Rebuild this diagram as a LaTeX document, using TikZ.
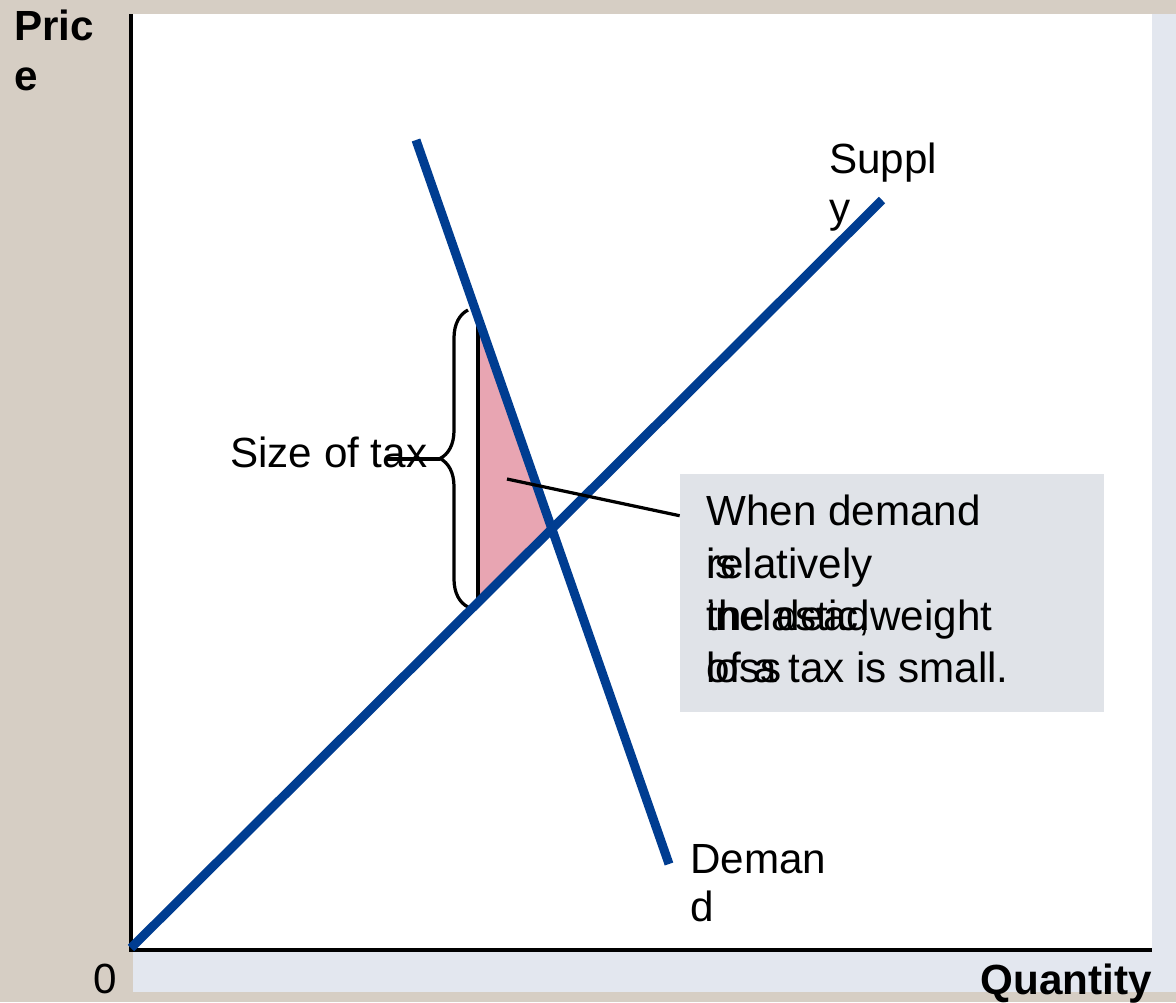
\documentclass[tikz,border=0pt]{standalone}
\usepackage{fontspec}
\setmainfont{Liberation Sans}
\usetikzlibrary{decorations.pathreplacing}
\definecolor{taxBeige}{RGB}{214,206,196}
\definecolor{taxPanel}{RGB}{227,231,239}
\definecolor{taxNote}{RGB}{224,227,232}
\definecolor{taxBlue}{RGB}{0,61,145}
\definecolor{taxPink}{RGB}{232,165,178}

\begin{document}
\begin{tikzpicture}[
  x=0.025cm, y=-0.025cm,
  txt/.style={font=\fontsize{30}{36}\selectfont, anchor=base west, inner sep=0pt},
  axistxt/.style={font=\fontsize{30}{36}\selectfont\bfseries, anchor=base west, inner sep=0pt},
  curve/.style={draw=taxBlue, line width=6.4pt},
  axis/.style={draw=black, line width=2.6pt},
  leader/.style={draw=black, line width=2.3pt},
  notebox/.style={fill=taxNote, inner sep=0pt, minimum width=10.6cm, minimum height=5.95cm}
]
\useasboundingbox (0,0) rectangle (1176,1002);
\fill[taxBeige] (0,0) rectangle (1176,1002);
\fill[taxPanel] (133,14) rectangle (1176,992);
\fill[white] (133,14) rectangle (1152,950);

\coordinate (ytop) at (131,14);
\coordinate (origin) at (131,950);
\coordinate (xend) at (1152,950);

\coordinate (s0) at (131,948);
\coordinate (s1) at (882,200);
\coordinate (d0) at (416,140);
\coordinate (d1) at (669,864);

\coordinate (tTop) at (478,318);
\coordinate (tBot) at (478,603);
\coordinate (tE) at (intersection of s0--s1 and d0--d1);

\fill[taxPink] (tTop) -- (tBot) -- (tE) -- cycle;
\draw[leader] (tTop) -- (tBot);

\draw[leader, decorate, decoration={brace, amplitude=0.7cm}] (468,607) -- (468,310);
\coordinate (tip) at (440,459);
\coordinate (tick) at (385,459);

\draw[axis] (ytop) -- (origin) -- (xend);
\draw[curve] (s0) -- (s1);
\draw[curve] (d0) -- (d1);

\node[notebox] (note) at (892,593) {};
\coordinate (dwl) at (507,479);
\draw[leader] (dwl) -- (note.160);

\node[txt] (sizetax) at (230,467) {Size of tax};
\draw[leader] (tick) -- (tip);

\node[txt] (supply1) at (829,173) {Suppl};
\node[txt] (supply2) at (829,222) {y};
\node[txt] (demand1) at (690,873) {Deman};
\node[txt] (demand2) at (690,921) {d};

\node[axistxt] (price1) at (14,40) {Pric};
\node[axistxt] (price2) at (14,90) {e};
\node[txt] (zero) at (93,993) {0};
\node[axistxt, anchor=base east] (qty) at (1152,994) {Quantity};

\node[txt] (noteA) at (706,525) {When demand};
\node[txt] (noteB) at (706,578) {is};
\node[txt] (noteC) at (706,578) {relatively};
\node[txt] (noteD) at (706,630) {inelastic,};
\node[txt] (noteE) at (706,630) {the deadweight};
\node[txt] (noteF) at (706,682) {loss};
\node[txt] (noteG) at (706,682) {of a tax is small.};
\end{tikzpicture}
\end{document}
